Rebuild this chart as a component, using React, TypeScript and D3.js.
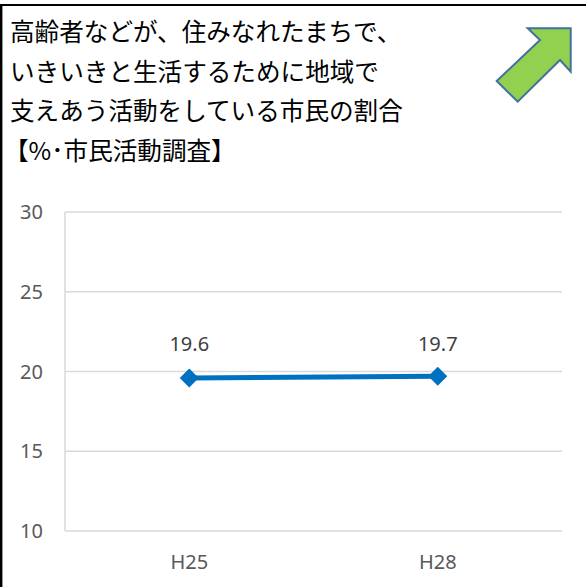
import React from "react";
import * as d3 from "d3";

const categories = ["H25", "H28"];
const values = [19.6, 19.7];
const yTicks = [10, 15, 20, 25, 30];
const titleLines = [
  "高齢者などが、住みなれたまちで、",
  "いきいきと生活するために地域で",
  "支えあう活動をしている市民の割合",
  "【%･市民活動調査】",
];

export default function App() {
  const W = 586, H = 587;
  const plot = { left: 65, right: 562, top: 212, bottom: 531 };
  const x = d3.scaleBand<string>().domain(categories).range([plot.left, plot.right]);
  const y = d3.scaleLinear().domain([10, 30]).range([plot.bottom, plot.top]);
  const cx = (c: string) => (x(c) as number) + x.bandwidth() / 2;
  const data = categories.map((c, i) => ({ c, v: values[i] }));
  const line = d3.line<{ c: string; v: number }>().x(d => cx(d.c)).y(d => y(d.v));
  const ds = 9.5;
  const arrow = [
    [570.7, 28.3], [527.7, 28.3], [540, 40], [496.7, 81], [517.7, 101.7],
    [560, 60], [570.7, 71.7],
  ];
  return (
    <svg width={W} height={H} style={{ position: "absolute", left: 0, top: 0, background: "#fff" }}>
      <rect x={0} y={0} width={W} height={H} fill="#fff" />
      <line x1={1} y1={5} x2={W} y2={5} stroke="#000" strokeWidth={2} />
      <line x1={1} y1={4} x2={1} y2={H} stroke="#000" strokeWidth={2} />
      <line x1={2.5} y1={6} x2={2.5} y2={H} stroke="#999" strokeWidth={1} />
      {titleLines.map((t, i) => (
        <text key={i} x={i === 3 ? 4 : 10} y={41 + i * 39.5} fontFamily="'Noto Sans CJK JP'" fontSize={24.6} fill="#000">{t}</text>
      ))}
      <polygon points={arrow.map(p => p.join(",")).join(" ")} fill="#92D050" stroke="#41719C" strokeWidth={2} strokeLinejoin="miter" />
      {yTicks.map(t => (
        <g key={t}>
          <line x1={plot.left} x2={plot.right} y1={y(t)} y2={y(t)} stroke="#D9D9D9" strokeWidth={1.5} />
          <text x={43} y={y(t)} dy="0.35em" textAnchor="end" fontFamily="'Noto Sans'" fontSize={20} fill="#595959">{t}</text>
        </g>
      ))}
      <line x1={plot.left} x2={plot.left} y1={plot.top} y2={plot.bottom} stroke="#D9D9D9" strokeWidth={1.5} />
      {categories.map(c => (
        <text key={c} x={cx(c)} y={562} dy="0.35em" textAnchor="middle" fontFamily="'Noto Sans'" fontSize={20} fill="#595959">{c}</text>
      ))}
      <path d={line(data) || ""} fill="none" stroke="#0070C0" strokeWidth={5} />
      {data.map(d => (
        <g key={d.c}>
          <polygon
            points={`${cx(d.c)},${y(d.v) - ds} ${cx(d.c) + ds},${y(d.v)} ${cx(d.c)},${y(d.v) + ds} ${cx(d.c) - ds},${y(d.v)}`}
            fill="#0070C0"
          />
          <text x={cx(d.c)} y={344} dy="0.35em" textAnchor="middle" fontFamily="'Noto Sans'" fontSize={20} fill="#404040">{d.v.toFixed(1)}</text>
        </g>
      ))}
    </svg>
  );
}
